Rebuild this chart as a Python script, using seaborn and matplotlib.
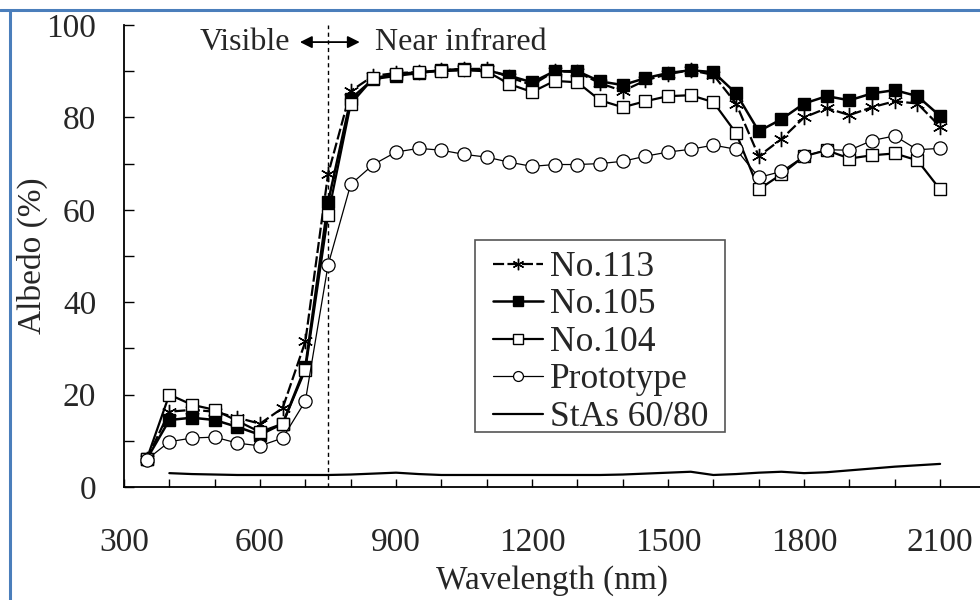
import matplotlib
matplotlib.use("Agg")
import matplotlib.pyplot as plt
import matplotlib.ticker as mticker
from matplotlib.lines import Line2D
from matplotlib.patches import Rectangle
import seaborn as sns
import pandas as pd

wavelength = [350, 400, 450, 500, 550, 600, 650, 700, 750, 800, 850, 900, 950, 1000,
              1050, 1100, 1150, 1200, 1250, 1300, 1350, 1400, 1450, 1500, 1550, 1600,
              1650, 1700, 1750, 1800, 1850, 1900, 1950, 2000, 2050, 2100]

no113 = [6.0, 16.3, 16.7, 16.3, 15.0, 13.7, 17.1, 31.5, 67.7, 85.7, 89.0, 89.6, 89.8, 90.2,
         90.5, 90.5, 88.7, 87.0, 90.0, 89.8, 87.4, 85.7, 88.0, 89.4, 90.2, 89.2,
         83.0, 71.6, 75.3, 80.0, 82.0, 80.5, 82.2, 83.5, 83.0, 78.0]

no105 = [6.0, 14.5, 15.0, 14.5, 13.0, 11.3, 13.7, 26.0, 61.6, 84.0, 88.3, 89.0, 89.6, 90.2,
         90.5, 90.2, 89.0, 87.6, 90.0, 90.0, 87.8, 87.0, 88.5, 89.6, 90.2, 89.8,
         85.2, 77.0, 79.6, 83.0, 84.6, 83.7, 85.2, 85.9, 84.6, 80.3]

no104 = [6.0, 20.0, 17.8, 16.7, 14.3, 11.9, 13.7, 25.4, 58.8, 82.9, 88.5, 89.4, 89.8, 90.0,
         90.2, 90.0, 87.2, 85.5, 87.9, 87.6, 83.7, 82.2, 83.5, 84.6, 84.8, 83.3,
         76.6, 64.4, 67.7, 71.6, 72.9, 71.1, 71.8, 72.2, 70.7, 64.4]

prototype = [5.9, 9.8, 10.6, 10.8, 9.5, 8.9, 10.6, 18.6, 48.0, 65.5, 69.8, 72.5, 73.3, 72.9,
             72.0, 71.4, 70.3, 69.4, 69.8, 69.8, 70.0, 70.5, 71.6, 72.5, 73.1, 74.0,
             73.1, 67.0, 68.3, 71.6, 73.0, 72.9, 75.0, 76.0, 73.0, 73.3]

stas_wl = [400, 450, 500, 550, 600, 650, 700, 750, 800, 850, 900, 950, 1000, 1050, 1100,
           1150, 1200, 1250, 1300, 1350, 1400, 1450, 1500, 1550, 1600, 1650, 1700,
           1750, 1800, 1850, 1900, 1950, 2000, 2050, 2100]
stas = [3.0, 2.8, 2.7, 2.6, 2.6, 2.6, 2.6, 2.6, 2.7, 2.9, 3.1, 2.8, 2.6, 2.6, 2.6,
        2.6, 2.6, 2.6, 2.6, 2.6, 2.7, 2.9, 3.1, 3.3, 2.6, 2.8, 3.1,
        3.3, 3.0, 3.2, 3.6, 4.0, 4.4, 4.7, 5.0]

df = pd.DataFrame({"wl": wavelength, "No.113": no113, "No.105": no105,
                   "No.104": no104, "Prototype": prototype})
df_s = pd.DataFrame({"wl": stas_wl, "StAs 60/80": stas})

sns.set_theme(style="white")
plt.rcParams["font.family"] = ["Liberation Serif", "DejaVu Serif"]
plt.rcParams["mathtext.fontset"] = "stix"

fig = plt.figure(figsize=(9.8, 6), dpi=100)
ax = fig.add_axes([124 / 980, 113 / 600, 856 / 980, 462 / 600])

asterisk = (6, 2, 0)
sns.lineplot(data=df, x="wl", y="No.113", ax=ax, color="black", lw=1.6,
             marker=asterisk, markersize=11, markeredgewidth=1.0,
             markeredgecolor="black", markerfacecolor="black",
             linestyle=(0, (5, 1.5)), label="No.113")
sns.lineplot(data=df, x="wl", y="No.105", ax=ax, color="black", lw=1.8,
             marker="s", markersize=9, markerfacecolor="black",
             markeredgecolor="black", markeredgewidth=1.0, label="No.105")
sns.lineplot(data=df, x="wl", y="No.104", ax=ax, color="black", lw=1.6,
             marker="s", markersize=9, markerfacecolor="white",
             markeredgecolor="black", markeredgewidth=1.0, label="No.104")
sns.lineplot(data=df, x="wl", y="Prototype", ax=ax, color="black", lw=0.9,
             marker="o", markersize=9.5, markerfacecolor="white",
             markeredgecolor="black", markeredgewidth=0.9, label="Prototype")
sns.lineplot(data=df_s, x="wl", y="StAs 60/80", ax=ax, color="black", lw=1.6,
             label="StAs 60/80")

ax.axvline(750, color="black", lw=1.0, linestyle=(0, (3, 2.5)), zorder=1)

ax.set_xlim(300, 2188)
ax.set_ylim(0, 100)
ax.xaxis.set_major_locator(mticker.MultipleLocator(300))
ax.xaxis.set_minor_locator(mticker.MultipleLocator(100))
ax.yaxis.set_major_locator(mticker.MultipleLocator(20))
ax.yaxis.set_minor_locator(mticker.MultipleLocator(10))
ax.tick_params(axis="x", which="both", direction="in", length=6, width=1.0,
               color="black", labelsize=24, pad=29, bottom=True)
ax.tick_params(axis="y", which="both", direction="in", length=7, width=1.0,
               color="black", labelsize=24, pad=20, left=True)
for s in ["top", "right"]:
    ax.spines[s].set_visible(False)
for s in ["left", "bottom"]:
    ax.spines[s].set_color("black")
    ax.spines[s].set_linewidth(1.3)

ax.set_xlabel("Wavelength (nm)", fontsize=24, labelpad=5)
ax.set_ylabel("Albedo (%)", fontsize=24, labelpad=-1)

ax.text(666, 96.3, "Visible", fontsize=23, ha="right", va="center")
ax.annotate("", xy=(688, 96.3), xytext=(820, 96.3),
            arrowprops=dict(arrowstyle="<|-|>", color="black", lw=1.3,
                            mutation_scale=18, shrinkA=0, shrinkB=0))
ax.text(854, 96.3, "Near infrared", fontsize=23, ha="left", va="center")

leg = ax.legend(loc="upper left", bbox_to_anchor=(0.431, 0.511), fontsize=25.5,
                frameon=False, handlelength=1.41, handletextpad=0.2,
                labelspacing=0.127, borderpad=0, borderaxespad=0, markerscale=0.75)
ax.add_patch(Rectangle((0.410, 0.119), 0.292, 0.4156, transform=ax.transAxes,
                       fill=True, facecolor="white", edgecolor="#555555", lw=1.2,
                       zorder=4))
leg.set_zorder(5)

border = "#4a7ebb"
fig.add_artist(Line2D([0, 1], [1 - 10 / 600, 1 - 10 / 600], color=border, lw=2.2,
                      transform=fig.transFigure))
fig.add_artist(Line2D([10 / 980, 10 / 980], [0, 1 - 10 / 600], color=border, lw=2.2,
                      transform=fig.transFigure))

fig.savefig("out.png", dpi=100)
